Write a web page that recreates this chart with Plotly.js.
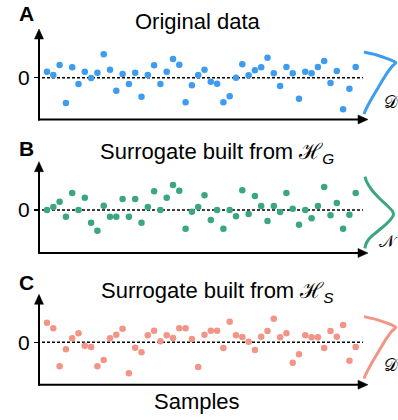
<!DOCTYPE html>
<html>
<head>
<meta charset="utf-8">
<script src="https://cdn.plot.ly/plotly-3.0.1.min.js"></script>
<style>html,body{margin:0;padding:0;background:#fff;}#chart{width:398px;height:420px;}</style>
</head>
<body>
<div id="chart"></div>
<script>
// ---- data ----
const sampleIndex = [1,2,3,4,5,6,7,8,9,10,11,12,13,14,15,16,17,18,19,20,21,22,23,24,25,
                     26,27,28,29,30,31,32,33,34,35,36,37,38,39,40,41,42,43,44,45,46,47,48,49,50];
const originalData = [0.6,0.27,1.27,-2.53,1.04,-0.63,0.6,-0.03,0.5,2.34,0.8,-1.3,0.37,-0.63,0.5,-1.9,0.27,1.24,-0.63,0.6,
                      1.87,1.3,-2.46,-0.76,0.27,0.8,-0.4,-0.6,-2.46,-1.86,0.0,1.34,0.24,0.74,1.04,2.0,0.44,-0.83,1.07,0.44,
                      -2.1,0.6,0.44,1.07,1.67,-0.53,0.67,-3.16,-1.1,1.07];
const surrogateHG = [0,0.3,0.83,-0.67,1.7,0,1.23,-1.27,-2.07,0.43,-0.67,-0.67,1.1,-0.67,1.1,-1.27,0.3,1.87,0,1.23,
                     2.5,1.93,-1.87,-0.17,0.3,1.47,-1.0,0,-1.87,0,-0.63,1.97,-0.4,1.4,0.4,-1.1,0.4,-0.2,1.7,0.13,
                     -1.47,0,-0.83,0.4,2.3,-0.53,0.7,-1.87,-0.47,1.7];
const surrogateHS = [1.96,1.4,-2.4,-0.7,0.4,0.9,-0.34,-0.47,-2.4,-1.77,0.4,0.76,1.36,-3.1,-0.54,-1.0,0.7,1.16,0.1,0.7,
                     0.43,1.4,1.4,0.33,-2.47,0.76,1.16,1.16,-0.57,2.06,0.7,0.53,0.06,-0.77,0.56,1.13,2.36,0.5,0.9,-2.04,
                     -1.2,0.7,0.5,0.5,-0.57,1.13,0.56,1.73,-1.84,-0.47];
// sideways distribution sketches: value level and density height
const distDValues  = [2.57,2.27,1.94,1.67,1.5,1.1,0.44,-0.4,-1.23,-2.06,-2.9,-3.4,-3.63];
const distDDensity = [0.03,0.42,0.72,0.92,1.0,0.88,0.73,0.57,0.42,0.27,0.13,0.06,0.03];
const distNValues  = [3.33,2.83,2.0,1.27,0.5,-0.17,-0.5,-1.0,-1.67,-2.33,-3.0,-3.5,-3.83];
const distNDensity = [0.06,0.11,0.27,0.47,0.72,0.91,0.93,0.83,0.62,0.37,0.16,0.08,0.06];
const panelTitles = ["Original data", "Surrogate built from ℋ<sub><i>G</i></sub>", "Surrogate built from ℋ<sub><i>S</i></sub>"];
const panelLetters = ["A", "B", "C"];
const distLabels = ["𝒟", "𝒩", "𝒟"];
const zeroTick = ["0"];

// ---- styling / layout ----
const W = 398, H = 420;
const px = x => x / W;
const py = y => 1 - y / H;
const colors = ["#3d9cf0", "#3aa683", "#f29587"];
const FONT = "Liberation Sans, Arial, Helvetica, sans-serif";

const panels = [
  {x:'x',  y:'y',  d:'x4', series: originalData, dv: distDValues, dd: distDDensity, axisY:119.5, tipY:29,    range:[-4.18,4.87], titleY:21,  letterY:13.5, labelY:102},
  {x:'x2', y:'y2', d:'x5', series: surrogateHG,  dv: distNValues, dd: distNDensity, axisY:253,   tipY:161.7, range:[-4.3,4.83],  titleY:153, letterY:148,  labelY:241},
  {x:'x3', y:'y3', d:'x6', series: surrogateHS,  dv: distDValues, dd: distDDensity, axisY:384.7, tipY:294.3, range:[-4.24,4.8],  titleY:292, letterY:282.5, labelY:365}
];

const axL = 39, axR = 368;
const x0px = 47, stepPx = 6.3;   // pixel position of sample 1 and spacing
const traces = [];
const layout = {
  width: W, height: H,
  margin: {l:0, r:0, t:0, b:0},
  paper_bgcolor: '#fff', plot_bgcolor: 'rgba(0,0,0,0)',
  showlegend: false,
  font: {family: FONT, color: '#000'},
  shapes: [], annotations: []
};

panels.forEach((p, i) => {
  const xk = p.x === 'x' ? 'xaxis' : 'xaxis' + p.x.slice(1);
  const yk = p.y === 'y' ? 'yaxis' : 'yaxis' + p.y.slice(1);
  const dk = 'xaxis' + p.d.slice(1);
  layout[xk] = {domain:[px(axL), px(axR)], range:[1 + (axL - x0px)/stepPx, 1 + (axR - x0px)/stepPx],
                anchor:p.y, visible:false, fixedrange:true};
  layout[dk] = {domain:[px(359.73), 1], range:[-0.1, 1.07], anchor:p.y, visible:false, fixedrange:true};
  layout[yk] = {domain:[py(p.axisY), py(p.tipY)], range:p.range, anchor:p.x,
                tickvals:[0], ticktext:zeroTick, ticks:'outside', ticklen:4, tickwidth:1.5, tickcolor:'#000',
                tickfont:{size:21, family:FONT, color:'#000'}, showgrid:false, zeroline:false, showline:false, fixedrange:true};

  traces.push({type:'scatter', mode:'markers', x:sampleIndex, y:p.series, xaxis:p.x, yaxis:p.y,
               marker:{color:colors[i], size:6.5}, hoverinfo:'skip', cliponaxis:false});
  traces.push({type:'scatter', mode:'lines', x:p.dd, y:p.dv, xaxis:p.d, yaxis:p.y,
               line:{color:colors[i], width:3, shape:'spline'}, hoverinfo:'skip', cliponaxis:false});

  // zero dashed line
  layout.shapes.push({type:'line', xref:'paper', yref:p.y, x0:px(42), x1:px(363), y0:0, y1:0,
                      line:{color:'#000', width:1.5, dash:'3px,2px'}, layer:'below'});
  // axes lines
  layout.shapes.push({type:'line', xref:'paper', yref:'paper', x0:px(axL), x1:px(axL), y0:py(p.axisY+1), y1:py(p.tipY+8),
                      line:{color:'#000', width:2}});
  layout.shapes.push({type:'line', xref:'paper', yref:'paper', x0:px(axL-1), x1:px(axR-8), y0:py(p.axisY), y1:py(p.axisY),
                      line:{color:'#000', width:2}});
  // arrowheads
  layout.shapes.push({type:'path', xref:'paper', yref:'paper',
    path:`M ${px(axL)} ${py(p.tipY)} L ${px(axL-4.5)} ${py(p.tipY+10)} L ${px(axL+4.5)} ${py(p.tipY+10)} Z`,
    fillcolor:'#000', line:{color:'#000', width:0.5}});
  layout.shapes.push({type:'path', xref:'paper', yref:'paper',
    path:`M ${px(axR)} ${py(p.axisY)} L ${px(axR-10)} ${py(p.axisY-4.5)} L ${px(axR-10)} ${py(p.axisY+4.5)} Z`,
    fillcolor:'#000', line:{color:'#000', width:0.5}});

  // titles and letters
  layout.annotations.push({xref:'paper', yref:'paper', x:px(i === 0 ? 197.5 : 217.5), y:py(p.titleY), text:panelTitles[i],
    showarrow:false, xanchor:'center', yanchor:'middle', font:{size:22, family:FONT, color:'#000'}});
  layout.annotations.push({xref:'paper', yref:'paper', x:px(26), y:py(p.letterY), text:'<b>' + panelLetters[i] + '</b>',
    showarrow:false, xanchor:'center', yanchor:'middle', font:{size:21, family:FONT, color:'#000'}});
  layout.annotations.push({xref:'paper', yref:'paper', x:px(i === 1 ? 388 : 391), y:py(p.labelY), text:distLabels[i],
    showarrow:false, xanchor:'center', yanchor:'middle', font:{size:17, family:'DejaVu Serif, DejaVu Sans, serif', color:'#000'}});
});

layout.annotations.push({xref:'paper', yref:'paper', x:px(197), y:py(401), text:'Samples',
  showarrow:false, xanchor:'center', yanchor:'middle', font:{size:22, family:FONT, color:'#000'}});

Plotly.newPlot('chart', traces, layout, {displayModeBar:false, staticPlot:true});
</script>
</body>
</html>
